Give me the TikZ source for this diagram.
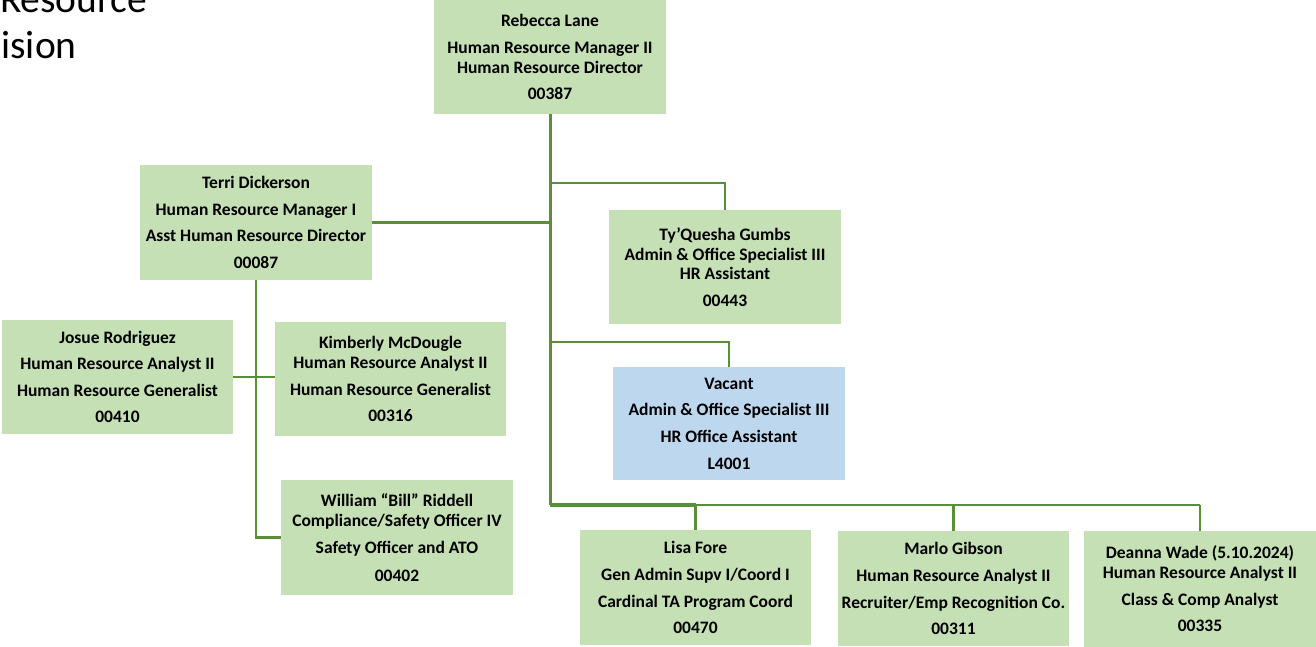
\documentclass[tikz,border=0pt]{standalone}
\usepackage{fontspec}
\setmainfont{Carlito}
\definecolor{boxgreen}{HTML}{C5E0B4}
\definecolor{boxblue}{HTML}{BDD7EE}
\definecolor{linegreen}{HTML}{5A8F3A}
\begin{document}
\begin{tikzpicture}[x=1pt,y=-1pt,
  box/.style={rectangle, fill=boxgreen, inner sep=0pt, outer sep=0pt,
    minimum width=232pt, minimum height=115pt, align=center,
    font=\fontsize{17.5}{20}\selectfont\bfseries},
  vacbox/.style={box, fill=boxblue},
  conn/.style={draw=linegreen, line width=2.6pt},
  trunkline/.style={draw=linegreen, line width=3pt},
  busthick/.style={draw=linegreen, line width=3.4pt},
  busthin/.style={draw=linegreen, line width=2pt},
  titletext/.style={anchor=base west, inner sep=0pt, outer sep=0pt,
    font=\fontsize{39.5}{47}\selectfont}]
\useasboundingbox (0,0) rectangle (1316,647);
\clip (0,0) rectangle (1316,647);

% title (clipped at the page edge, as in the reference)
\node[titletext] (t1) at (0,13) {Resource};
\node[titletext] (t2) at (1.5,59) {ision};

% boxes
\node[box, minimum height=114pt] (rebecca) at (550,57) {Rebecca Lane\\[7pt]Human Resource Manager II\\Human Resource Director\\[6pt]00387};
\node[box] (terri) at (256,222.5) {Terri Dickerson\\[7pt]Human Resource Manager I\\[6pt]Asst Human Resource Director\\[7pt]00087};
\node[box, minimum height=114pt] (ty) at (725,267) {Ty’Quesha Gumbs\\Admin \& Office Specialist III\\[-1pt]HR Assistant\\[7pt]00443};
\node[vacbox, minimum height=113pt] (vac) at (729,423.5) {Vacant\\[6pt]Admin \& Office Specialist III\\[7pt]HR Office Assistant\\[7pt]L4001};
\node[box, minimum width=231pt, minimum height=114pt] (josue) at (117.5,377) {Josue Rodriguez\\[6pt]Human Resource Analyst II\\[7pt]Human Resource Generalist\\[6pt]00410};
\node[box, minimum width=231pt, minimum height=114pt] (kim) at (390.5,379) {Kimberly McDougle\\Human Resource Analyst II\\[7pt]Human Resource Generalist\\[6pt]00316};
\node[box] (william) at (397,537.5) {William “Bill” Riddell\\Compliance/Safety Officer IV\\[7pt]Safety Officer and ATO\\[8pt]00402};
\node[box, minimum width=231pt] (lisa) at (695.5,587.5) {Lisa Fore\\[7pt]Gen Admin Supv I/Coord I\\[7pt]Cardinal TA Program Coord\\[6pt]00470};
\node[box, minimum width=231pt] (marlo) at (953.5,588.5) {Marlo Gibson\\[7pt]Human Resource Analyst II\\[7pt]Recruiter/Emp Recognition Co.\\[6pt]00311};
\node[box, minimum height=116pt] (deanna) at (1200,589) {Deanna Wade (5.10.2024)\\Human Resource Analyst II\\[7pt]Class \& Comp Analyst\\[6pt]00335};

% junction points on the trunk
\coordinate (jty) at (550,183);
\coordinate (jvac) at (550,342);
\coordinate (bus) at (550,505);

% connectors
\draw[trunkline] (rebecca.south) -- (bus);
\draw[conn] (jty) -| (ty.north);
\draw[conn] (terri.east) -- (terri.east -| rebecca.south);
\draw[conn] (jvac) -| (vac.north);
\draw[busthick] (bus) -- (bus -| lisa.north);
\draw[busthin] (bus -| lisa.north) -- (bus -| deanna.north);
\draw[conn] (bus -| lisa.north) -- (lisa.north);
\draw[conn] (bus -| marlo.north) -- (marlo.north);
\draw[conn] (bus -| deanna.north) -- (deanna.north);
\draw[conn] (terri.south) |- (william.west);
\draw[conn] (josue.east) -- (josue.east -| terri.south);
\draw[conn] (kim.west |- josue.east) -- (josue.east -| terri.south);
\end{tikzpicture}
\end{document}
